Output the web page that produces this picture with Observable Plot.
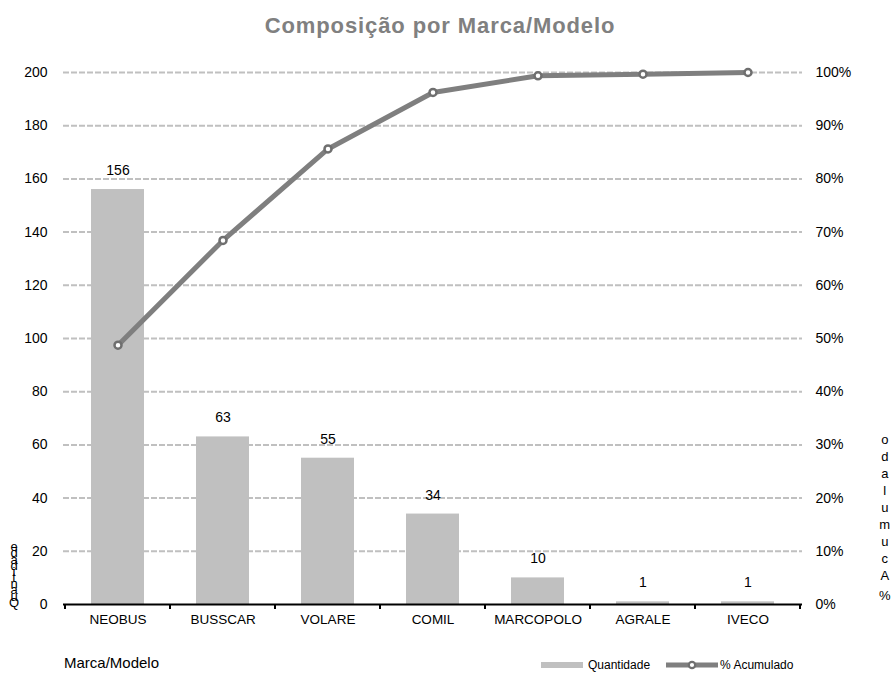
<!DOCTYPE html>
<html><head><meta charset="utf-8">
<script src="https://cdn.jsdelivr.net/npm/d3@7"></script>
<script src="https://cdn.jsdelivr.net/npm/@observablehq/plot@0.6"></script>
<style>
body{margin:0;background:#fff;}
#wrap{position:relative;width:893px;height:679px;font-family:"Liberation Sans",Arial,sans-serif;overflow:hidden;}
#title{position:absolute;left:0;top:13px;width:880px;text-align:center;font:bold 22px "Liberation Sans",Arial,sans-serif;letter-spacing:0.9px;color:#808080;z-index:2;}
#chart{position:absolute;left:0;top:0;}
.stack{position:absolute;display:flex;flex-direction:column-reverse;align-items:center;font-size:13px;color:#000;}
.stack span{display:block;}
#xlabel{position:absolute;left:64px;top:654px;font-size:15px;color:#000;}
#legend{position:absolute;left:541px;top:658px;font-size:12px;color:#000;display:flex;align-items:center;}
</style></head>
<body>
<div id="wrap">
  <div id="title">Composição por Marca/Modelo</div>
  <div id="chart"></div>
  <div id="ylabelL" class="stack"></div>
  <div id="ylabelR" class="stack"></div>
  <div id="xlabel">Marca/Modelo</div>
  <div id="legend"></div>
</div>
<script>
const marcas = ["NEOBUS","BUSSCAR","VOLARE","COMIL","MARCOPOLO","AGRALE","IVECO"];
const quantidade = [156, 63, 55, 34, 10, 1, 1];
const acumulado = [48.75, 68.44, 85.63, 96.25, 99.38, 99.69, 100];
const yTicks = [0,20,40,60,80,100,120,140,160,180,200];
const yTitleLeft = "Quantidade";
const yTitleRight = "% Acumulado";
const serieBar = "Quantidade";
const serieLine = "% Acumulado";

const barColor = "#c0c0c0";
const lineColor = "#7f7f7f";

const data = marcas.map((m,i)=>({marca:m, q:quantidade[i], pct:acumulado[i]}));

const plot = Plot.plot({
  width: 893, height: 679,
  marginTop: 72, marginBottom: 75, marginLeft: 63, marginRight: 91,
  style: {fontFamily: '"Liberation Sans",Arial,sans-serif', fontSize: "14px", color:"#000", background:"transparent"},
  x: {domain: marcas, paddingInner: 0.5, paddingOuter: 0.25},
  y: {domain: [0,200]},
  marks: [
    Plot.gridY(yTicks.filter(d=>d>0), {stroke: barColor, strokeOpacity: 1, strokeWidth: 2, strokeDasharray: "6,2"}),
    Plot.barY(data, {x:"marca", y:"q", fill: barColor}),
    Plot.text(data, {x:"marca", y:"q", text: d=>String(d.q), dy:-19, fontSize:14, fill:"#000"}),
    Plot.ruleY([0], {stroke:"#000", strokeWidth:2}),
    Plot.axisX({tickSize:0, tickPadding:10, fontSize:13.5, label:null}),
    Plot.axisY(yTicks, {anchor:"left", tickSize:0, tickPadding:16, fontSize:14, label:null}),
    Plot.axisY(yTicks, {anchor:"right", tickSize:0, tickPadding:13, fontSize:14, label:null, tickFormat: d=> (d/2)+"%"}),
    Plot.line(data, {x:"marca", y: d=>d.pct*2, stroke: lineColor, strokeWidth:5, strokeLinejoin:"round"}),
    Plot.dot(data, {x:"marca", y: d=>d.pct*2, r:3.5, fill:"#fff", stroke:"#6f6f6f", strokeWidth:2.5})
  ]
});

// boundary ticks on x axis (Excel style), from the library's x scale
const xs = plot.scale("x");
const ys = plot.scale("y");
const gap = (xs.step - xs.bandwidth)/2;
const bounds = marcas.map(m => xs.apply(m) - gap);
bounds.push(xs.apply(marcas[marcas.length-1]) + xs.bandwidth + gap);
const y0 = ys.apply(0);
const svg = d3.select(plot);
svg.append("g").selectAll("line").data(bounds).join("line")
  .attr("x1", d=>d).attr("x2", d=>d).attr("y1", y0).attr("y2", y0+5)
  .attr("stroke","#000").attr("stroke-width",2);

document.getElementById("chart").appendChild(plot);

// stacked vertical axis titles
function stack(el, text, left, bottom, lh, spaceH){
  el.style.left = left+"px";
  el.style.top = "0px";
  for (const ch of text) {
    const s = document.createElement("span");
    s.textContent = ch === " " ? "\u00a0" : ch;
    const h = ch === " " ? spaceH : lh;
    s.style.lineHeight = h+"px";
    s.style.height = h+"px";
    s.style.overflow = "visible";
    el.appendChild(s);
  }
  el.style.top = (bottom - el.getBoundingClientRect().height) + "px";
}
stack(document.getElementById("ylabelL"), yTitleLeft, 9, 606, 6.2, 6.2);
stack(document.getElementById("ylabelR"), yTitleRight, 879, 604, 17, 3);

// legend
const leg = document.getElementById("legend");
leg.innerHTML = `<svg width="44" height="10"><rect x="0" y="2" width="42" height="6" fill="${barColor}"></rect></svg>
<span style="margin-left:3px">${serieBar}</span>
<svg width="56" height="10" style="margin-left:14px"><line x1="2" y1="5" x2="54" y2="5" stroke="${lineColor}" stroke-width="5"></line><circle cx="28" cy="5" r="3.2" fill="#fff" stroke="#6f6f6f" stroke-width="2.2"></circle></svg>
<span>${serieLine}</span>`;
</script>
</body></html>
